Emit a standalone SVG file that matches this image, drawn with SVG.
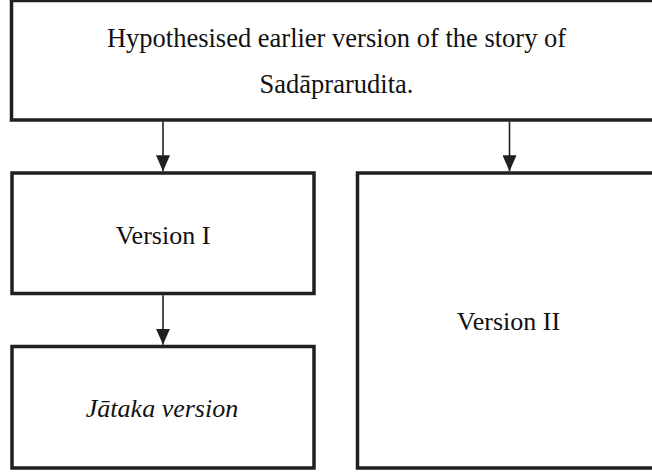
<svg xmlns="http://www.w3.org/2000/svg" width="652" height="472" viewBox="0 0 652 472">
  <style>
    .box { fill: #ffffff; stroke: #231f20; stroke-width: 3.5; }
    .lbl { font-family: "Liberation Serif", "Times New Roman", serif; font-size: 26px; fill: #111111; text-anchor: middle; }
    .big { font-size: 26.5px; }
    .it { font-style: italic; }
    .conn { stroke: #231f20; stroke-width: 1.6; fill: none; marker-end: url(#arr); }
  </style>
  <defs>
    <marker id="arr" markerUnits="userSpaceOnUse" viewBox="0 0 16 14" refX="16" refY="7" markerWidth="16" markerHeight="14" orient="auto">
      <path d="M0,0 L16,7 L0,14 Z" fill="#231f20"/>
    </marker>
  </defs>
  <rect width="652" height="472" fill="#ffffff"/>
  <g id="node-top">
    <rect class="box" x="11.5" y="0.5" width="700" height="119.5"/>
    <text class="lbl big" x="336.5" y="47">Hypothesised earlier version of the story of</text>
    <text class="lbl big" x="336.5" y="93">Sadāprarudita.</text>
  </g>
  <g id="node-v1">
    <rect class="box" x="12" y="173" width="302" height="120.5"/>
    <text class="lbl" x="163" y="243.5">Version I</text>
  </g>
  <g id="node-jataka">
    <rect class="box" x="12" y="346.5" width="302" height="121.5"/>
    <text class="lbl it" x="162" y="417">Jātaka version</text>
  </g>
  <g id="node-v2">
    <rect class="box" x="357.5" y="173" width="350" height="295"/>
    <text class="lbl" x="508.5" y="330">Version II</text>
  </g>
  <g id="connectors">
    <line class="conn" x1="163" y1="121.8" x2="163" y2="171.3"/>
    <line class="conn" x1="509.5" y1="121.8" x2="509.5" y2="171.3"/>
    <line class="conn" x1="163" y1="295.3" x2="163" y2="344.8"/>
  </g>
</svg>
